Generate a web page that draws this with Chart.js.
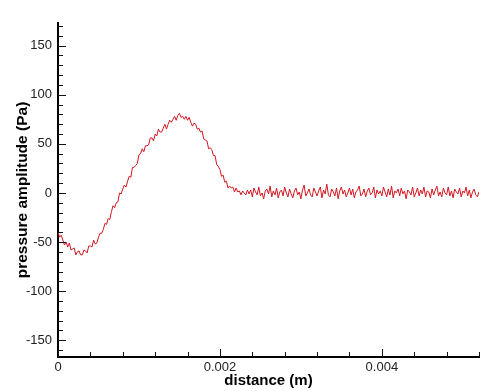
<!DOCTYPE html>
<html>
<head>
<meta charset="utf-8">
<script src="https://cdn.jsdelivr.net/npm/chart.js@4.4.1/dist/chart.umd.min.js"></script>
<style>
  html, body { margin: 0; padding: 0; background: #fff; }
  #wrap { width: 500px; height: 391px; position: relative; }
</style>
</head>
<body>
<div id="wrap"><canvas id="c" width="500" height="391"></canvas></div>
<script>
// ---- data ----
const distanceStep = 0.00002;          // sampling spacing along distance (m)
const pressureAmplitude = [
  -40, -45, -43, -48, -53, -50, -55, -51, -58, -57,
  -56, -63, -60, -59, -63, -63, -58, -59, -61, -54,
  -54, -55, -48, -52, -51, -45, -41, -41, -37, -31,
  -32, -26, -27, -19, -13, -15, -10, -9, 0, -1,
  4, 8, 6, 12, 17, 16, 26, 26, 28, 30,
  39, 40, 45, 42, 48, 48, 49, 56, 56, 53,
  60, 58, 65, 62, 62, 66, 70, 65, 70, 74,
  72, 75, 78, 74, 79, 81, 77, 78, 75, 78,
  74, 77, 72, 68, 71, 70, 65, 66, 62, 63,
  55, 54, 53, 45, 46, 44, 38, 38, 29, 27,
  24, 17, 18, 11, 12, 5, 7, 5, 6, 1,
  5, 1, 2, -2, 2, 0, -2, 3, -1, 3,
  -4, 5, 1, -2, 6, -3, 0, -6, 2, 4,
  -1, 7, -4, 2, -2, 5, -5, 1, 3, -3,
  6, 0, -4, 4, -1, -5, 2, 5, -2, 1,
  -6, 3, 8, -3, 0, 4, -2, -4, 5, 1,
  -3, 2, 6, -5, 3, -1, 9, -2, -4, 4,
  1, -3, 5, -6, 2, 6, -1, 3, -4, 0,
  5, -2, 4, -5, 1, 3, 7, -3, -1, 4,
  -4, 2, 5, -2, 0, 6, -5, 3, -1, 2,
  -3, 6, 1, -4, 4, -2, 7, -5, 2, 0,
  4, -3, 5, -1, 2, -6, 3, 1, -2, 6,
  -4, 0, 5, -3, 3, -1, 6, -4, 2, 1,
  -5, 4, -2, 3, 7, -3, 1, -4, 5, 0,
  -2, 6, -3, 2, -5, 4, 1, -1, 5, -4,
  2, 0, 6, -3, 3, -5, 1, 4, -2, -4,
  1
];
const xMajorTicks = [0, 0.002, 0.004];
const xMinorStep = 0.0004;
const yMajorTicks = [-150, -100, -50, 0, 50, 100, 150];
const yMinorStep = 10;
const xRange = [0, 0.0052];
const yRange = [-167, 173];

const points = pressureAmplitude.map((v, i) => ({ x: +(i * distanceStep).toFixed(6), y: v }));

const FONT = "'Liberation Sans', Arial, sans-serif";

const innerTicks = {
  id: 'innerTicks',
  afterDraw(chart) {
    const ctx = chart.ctx;
    const xs = chart.scales.x, ys = chart.scales.y;
    const ca = chart.chartArea;
    ctx.save();
    ctx.strokeStyle = '#111';
    ctx.lineWidth = 1;
    ctx.beginPath();
    for (let k = 0; k * xMinorStep <= xRange[1] + 1e-9; k++) {
      const v = k * xMinorStep;
      const px = Math.round(xs.getPixelForValue(v)) + 0.5;
      const major = xMajorTicks.some(t => Math.abs(t - v) < 1e-9);
      const len = major ? 8 : 5;
      ctx.moveTo(px, ca.bottom);
      ctx.lineTo(px, ca.bottom - len);
    }
    for (let v = Math.ceil(yRange[0] / yMinorStep) * yMinorStep; v <= yRange[1]; v += yMinorStep) {
      const py = Math.round(ys.getPixelForValue(v)) + 0.5;
      const major = yMajorTicks.includes(v);
      const len = major ? 8 : 5;
      ctx.moveTo(ca.left, py);
      ctx.lineTo(ca.left + len, py);
    }
    ctx.stroke();
    ctx.restore();
  }
};

new Chart(document.getElementById('c'), {
  type: 'scatter',
  data: {
    datasets: [{
      data: points,
      showLine: true,
      borderColor: '#d4161f',
      borderWidth: 1,
      pointRadius: 0,
      tension: 0
    }]
  },
  options: {
    responsive: false,
    animation: false,
    devicePixelRatio: 1,
    layout: { padding: { top: 23, right: 21, left: 0, bottom: 0 } },
    plugins: { legend: { display: false }, tooltip: { enabled: false } },
    scales: {
      x: {
        type: 'linear',
        min: xRange[0], max: xRange[1],
        afterBuildTicks: s => { s.ticks = xMajorTicks.map(v => ({ value: v })); },
        afterFit: s => { s.height = 34; },
        grid: { display: false, drawTicks: false },
        border: { display: true, color: '#000', width: 2 },
        ticks: {
          padding: 3,
          color: '#222',
          font: { family: FONT, size: 13 },
          maxRotation: 0,
          callback: v => (v === 0 ? '0' : String(+v.toFixed(3)))
        },
        title: {
          display: true, text: 'distance (m)', color: '#000',
          font: { family: FONT, size: 15, weight: 'bold' },
          padding: { top: 0, bottom: 1 }
        }
      },
      y: {
        type: 'linear',
        min: yRange[0], max: yRange[1],
        afterBuildTicks: s => { s.ticks = yMajorTicks.map(v => ({ value: v })); },
        afterFit: s => { s.width = 58; },
        grid: { display: false, drawTicks: false },
        border: { display: true, color: '#000', width: 2 },
        ticks: {
          padding: 6,
          color: '#222',
          font: { family: FONT, size: 13 },
          callback: v => String(v)
        },
        title: {
          display: true, text: 'pressure amplitude (Pa)', color: '#000',
          font: { family: FONT, size: 15.5, weight: 'bold' },
          padding: { top: 13, bottom: 0 }
        }
      }
    }
  },
  plugins: [innerTicks]
});
</script>
</body>
</html>
